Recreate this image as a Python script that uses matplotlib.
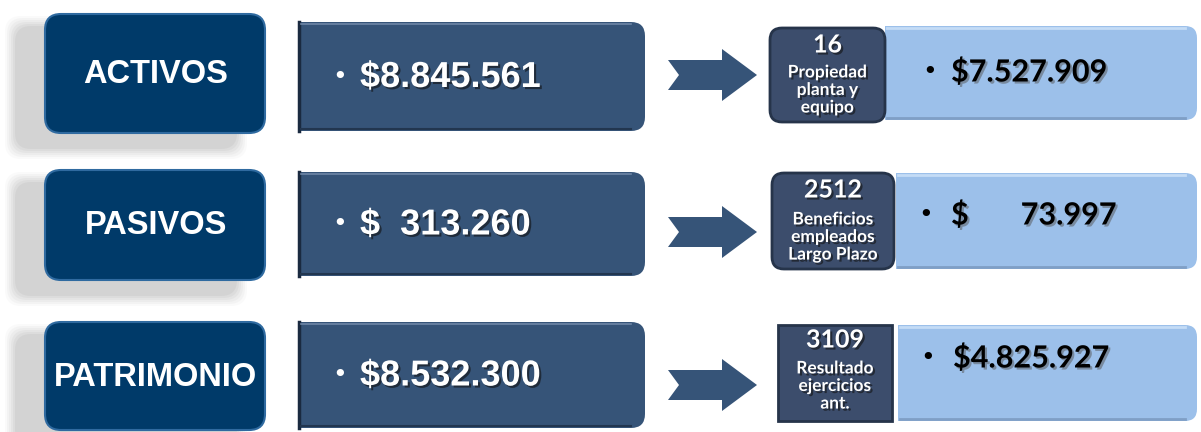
import matplotlib
matplotlib.use('Agg')
import matplotlib.pyplot as plt
from matplotlib.patches import FancyBboxPatch, Rectangle, Polygon
import matplotlib.patheffects as pe

#%% Datos
labels = ['ACTIVOS', 'PASIVOS', 'PATRIMONIO']
totals = ['$8.845.561', '$  313.260', '$8.532.300']
codes = ['16', '2512', '3109']
code_names = ['Propiedad\nplanta y\nequipo',
              'Beneficios\nempleados\nLargo Plazo',
              'Resultado\nejercicios\nant.']
sub_values = ['$7.527.909', '$       73.997', '$4.825.927']

#%% Geometria (x0, y0, x1, y1) por fila
label_box = [(45, 14, 265, 133), (45, 170, 265, 280), (45, 322, 265, 430)]
value_box = [(298, 22, 645, 131), (298, 172, 645, 276), (298, 322, 645, 428)]
arrow_y = [75, 232, 385]
code_box = [(770, 28, 885, 122), (772, 173, 894, 269), (778, 325, 892, 421)]
code_round = [True, True, False]
code_off = [(17, 62), (17, 64), (15, 61)]
light_box = [(885, 26, 1197, 120), (896, 173, 1197, 269), (898, 325, 1197, 421)]
sub_y = [72, 215, 358]

c_label = '#003a69'
c_value = '#365478'
c_code = '#3c4d6c'
c_light = '#9cc0ea'

fig = plt.figure(figsize=(12.01, 4.32), dpi=100)
ax = fig.add_axes([0, 0, 1, 1])
ax.set_xlim(0, 1201)
ax.set_ylim(432, 0)
ax.axis('off')


def rbox(x0, y0, x1, y1, color, r, z=2, ec='none', lw=0, alpha=1):
    p = FancyBboxPatch((x0 + r, y0 + r), (x1 - x0) - 2 * r, (y1 - y0) - 2 * r,
                       boxstyle='round,pad=%g' % r, fc=color, ec=ec, lw=lw,
                       alpha=alpha, zorder=z)
    ax.add_patch(p)
    return p


def halfround(x0, y0, x1, y1, color, r, z=2):
    # esquinas izquierdas rectas, derechas redondeadas
    rbox(x0, y0, x1, y1, color, r, z)
    ax.add_patch(Rectangle((x0, y0), (x1 - x0) / 2, y1 - y0, fc=color, ec='none', zorder=z))


shadow_txt = [pe.withSimplePatchShadow(offset=(1.5, -1.5), shadow_rgbFace='#111111', alpha=0.6)]

for i in range(3):
    # sombra de la caja de etiqueta
    x0, y0, x1, y1 = label_box[i]
    for k, a in enumerate([0.04, 0.05, 0.06, 0.07, 0.08, 0.09]):
        g = 12 - 2 * k
        rbox(x0 - 28 - g, y0 + 14 - g, x1 - 30 + g, y1 + 14 + g, '#808080', 16, z=1, alpha=a)
    rbox(x0, y0, x1, y1, c_label, 16, z=3, ec='#2f6aa0', lw=1.5)
    ax.text((x0 + x1) / 2 + 1, (y0 + y1) / 2 + 1, labels[i], color='white', fontsize=23.5,
            fontweight='bold', family=['Liberation Sans', 'DejaVu Sans'],
            ha='center', va='center', zorder=5)

    # caja del total
    x0, y0, x1, y1 = value_box[i]
    halfround(x0, y0, x1, y1, c_value, 14, z=2)
    ax.plot([x0 + 1, x0 + 1], [y0, y1], color='#1a2a40', lw=2.5, zorder=3)
    ax.plot([x0 + 3, x1 - 14], [y0 + 2, y0 + 2], color='#6e86a6', lw=1.2, zorder=3)
    ax.plot([x0 + 3, x1 - 14], [y1 - 2, y1 - 2], color='#22364f', lw=1.5, zorder=3)
    ym = (y0 + y1) / 2
    ax.text(x0 + 42, ym, '•', color='white', fontsize=18, ha='center', va='center', zorder=5)
    ax.text(x0 + 62, ym + 1, totals[i], color='white', fontsize=26, fontweight='bold',
            family=['Liberation Sans', 'DejaVu Sans'],
            ha='left', va='center', zorder=5, path_effects=shadow_txt)

    # flecha con muesca
    y = arrow_y[i]
    pts = [(668, y - 15), (722, y - 15), (722, y - 26), (757, y), (722, y + 26),
           (722, y + 15), (668, y + 15), (679, y)]
    ax.add_patch(Polygon(pts, closed=True, fc=c_value, ec='none', zorder=2))

    # caja clara
    x0, y0, x1, y1 = light_box[i]
    halfround(x0, y0, x1, y1, c_light, 12, z=2)
    ax.plot([x0 + 2, x1 - 12], [y0 + 2, y0 + 2], color='#c4dcf6', lw=2, zorder=3)
    ax.plot([x0 + 2, x1 - 12], [y1 - 2, y1 - 2], color='#7f9fc6', lw=2, zorder=3)
    ax.text(x0 + 45 if i == 0 else x0 + 30, sub_y[i], '•', color='black', fontsize=18,
            ha='center', va='center', zorder=5)
    ax.text(x0 + 66 if i == 0 else x0 + 55, sub_y[i], sub_values[i], color='black', fontsize=22,
            fontweight='bold', family=['Lato', 'DejaVu Sans'], ha='left', va='center',
            zorder=5, path_effects=[pe.withSimplePatchShadow(offset=(1.5, -1.5),
                                                              shadow_rgbFace='#555555', alpha=0.5)])

    # caja de codigo
    x0, y0, x1, y1 = code_box[i]
    if code_round[i]:
        rbox(x0, y0, x1, y1, c_code, 12, z=4, ec='#26344a', lw=2)
    else:
        ax.add_patch(Rectangle((x0, y0), x1 - x0, y1 - y0, fc=c_code, ec='#26344a', lw=2, zorder=4))
    xm = (x0 + x1) / 2
    ax.text(xm, y0 + code_off[i][0], codes[i], color='white', fontsize=18, fontweight='bold',
            family=['Lato', 'DejaVu Sans'], ha='center', va='center', zorder=5,
            path_effects=shadow_txt)
    ax.text(xm, y0 + code_off[i][1], code_names[i], color='white', fontsize=12.5, fontweight='bold',
            family=['Lato', 'DejaVu Sans'], ha='center', va='center', zorder=5,
            linespacing=1.12, path_effects=shadow_txt)

fig.savefig('out.png', dpi=100)
